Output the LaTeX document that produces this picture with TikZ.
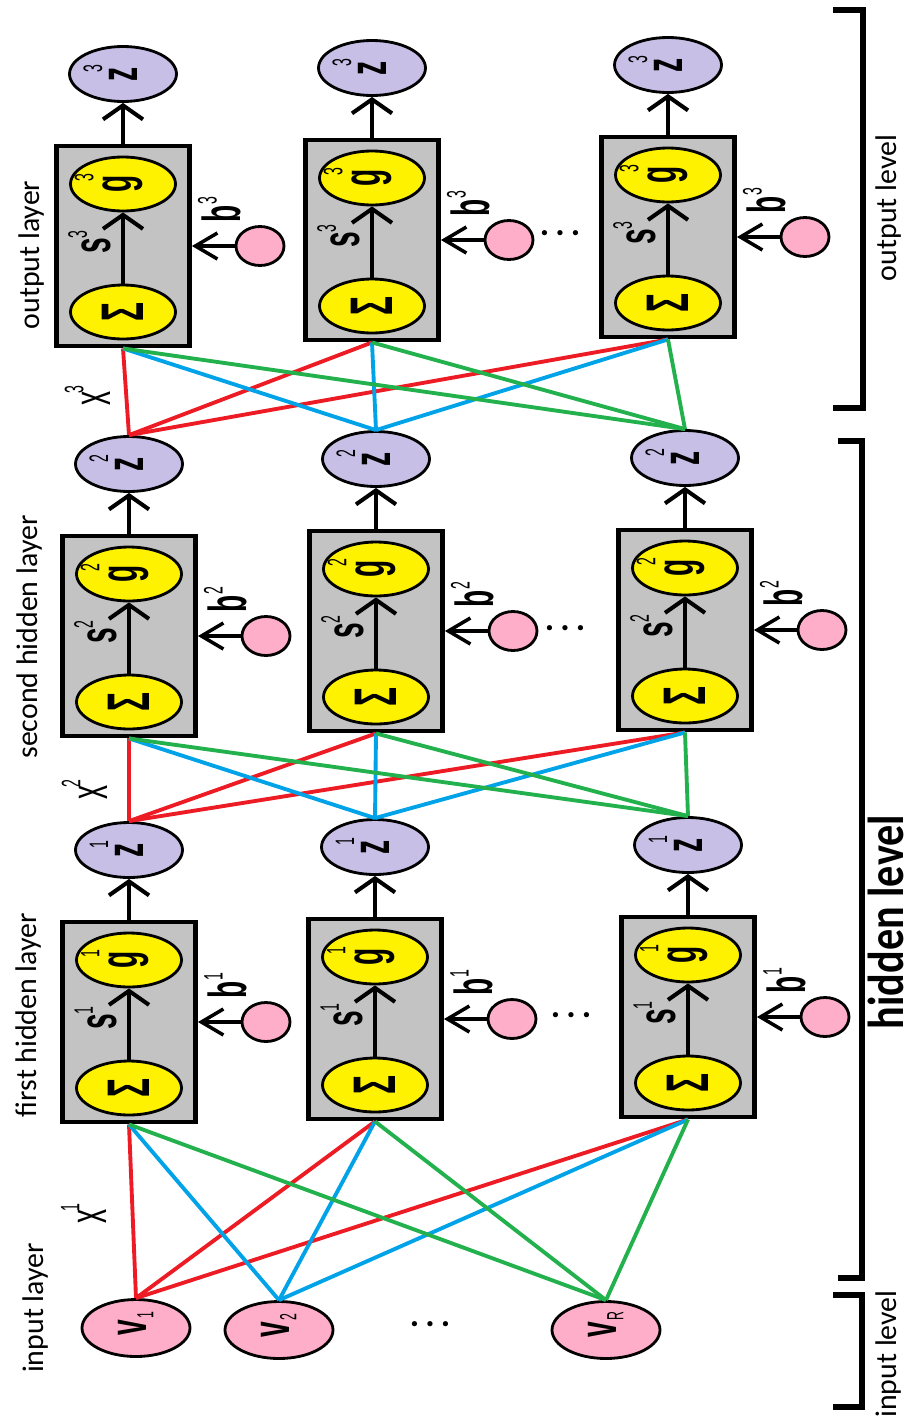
\documentclass[tikz,border=0pt]{standalone}
\usepackage{fontspec}
\setmainfont{Carlito}
\newfontfamily\symf{Liberation Sans}
\usepackage{graphicx}
\usetikzlibrary{shapes.geometric,arrows.meta}

\definecolor{paintred}{RGB}{237,28,36}
\definecolor{paintblue}{RGB}{0,162,232}
\definecolor{paintgreen}{RGB}{34,177,76}
\definecolor{paintyellow}{RGB}{255,242,0}
\definecolor{paintgray}{RGB}{195,195,195}
\definecolor{lavender}{RGB}{200,191,231}
\definecolor{rosepink}{RGB}{255,174,201}

% letter with a superscript, turned to read upwards: {kern}{raise}{letter}{index}
\newcommand{\sy}[4]{\rotatebox{90}{\scalebox{1}[1.9]{#3\rlap{\kern#1\smash{\raisebox{#2}{\mdseries\fontsize{8}{8}\selectfont #4}}}}}}
% input letter with a subscript
\newcommand{\sv}[1]{\rotatebox{90}{\scalebox{1}[1.9]{v\rlap{\kern1pt\raisebox{-2pt}{\mdseries\fontsize{7}{7}\selectfont #1}}}}}
\newcommand{\sumsign}{\rotatebox{90}{\scalebox{1}[1.9]{\fontsize{18}{18}\selectfont Σ}}}
\newcommand{\dotrow}{{\bfseries\fontsize{20}{20}\selectfont .\hspace{3.5pt}.\hspace{3.5pt}.}}

\tikzset{
  unit/.style={draw, line width=2.8pt, fill=paintgray, minimum width=2.66cm, minimum height=4cm, inner sep=0pt},
  oper/.style={ellipse, draw, line width=1.6pt, fill=paintyellow, minimum width=2.1cm, minimum height=1.08cm, inner sep=0pt, font=\symf\bfseries\fontsize{16}{16}\selectfont},
  outp/.style={oper, fill=lavender, minimum width=2.14cm, minimum height=1.1cm},
  inp/.style={oper, fill=rosepink, minimum width=2.16cm, minimum height=1.14cm},
  bias/.style={ellipse, draw, line width=1.6pt, fill=rosepink, minimum width=0.96cm, minimum height=0.78cm, inner sep=0pt},
  symlab/.style={inner sep=0pt, font=\symf\bfseries\fontsize{16}{16}\selectfont},
  xlab/.style={inner sep=0pt, font=\symf\fontsize{16}{16}\selectfont},
  lname/.style={rotate=90, inner sep=0pt, font=\fontsize{17}{17}\selectfont},
  upar/.style={line width=2.3pt, -{Straight Barb[length=0.28cm, width=0.8cm]}},
  sidear/.style={line width=2pt, -{Straight Barb[length=0.44cm, width=0.52cm]}},
  wire/.style={line width=2.2pt},
  bracket/.style={line width=3pt}
}

\begin{document}
\begin{tikzpicture}[x=0.02cm, y=-0.02cm]
\useasboundingbox (0,0) rectangle (915,1420);

% input layer
\node[inp] (v1) at (136,1328) {\sv{1}};
\node[inp] (v2) at (279,1330) {\sv{2}};
\node[inp] (vR) at (606,1330) {\sv{R}};
\node (vdots) at (430,1324) {\dotrow};

% the three layers of units
\foreach \l/\c/\x/\y in {1/1/129/1022, 1/2/375/1019, 1/3/688/1017,
                         2/1/129/636, 2/2/376/631, 2/3/685/630,
                         3/1/123/246, 3/2/372/240, 3/3/668/237} {
    \node[unit] (u\l\c) at (\x,\y) {};
    \node[oper] (sum\l\c) at (\x,\y+66) {\sumsign};
    \node[oper] (act\l\c) at (\x,\y-62) {\sy{-3.6pt}{11.5pt}{g}{\l}};
    \draw[upar] (sum\l\c) -- (act\l\c);
    \node[symlab] (s\l\c) at (\x-27,\y) {\sy{0pt}{7pt}{s}{\l}};
    \node[bias] (bias\l\c) at (\x+137,\y) {};
    \draw[sidear] (bias\l\c) -- (u\l\c);
    \node[symlab] (blab\l\c) at (\x+98,\y-32) {\sy{0.5pt}{7pt}{b}{\l}};
    \node[outp] (z\l\c) at (\x,\y-172) {\sy{-3.3pt}{10.5pt}{z}{\l}};
    \draw[upar] (u\l\c) -- (z\l\c);
}
\node (bdots1) at (571,1015) {\dotrow};
\node (bdots2) at (565,628) {\dotrow};
\node (bdots3) at (560,233) {\dotrow};

% weights
\foreach \src/\col in {v1/paintred, v2/paintblue, vR/paintgreen}
    \foreach \c in {1,2,3}
        \draw[wire, \col] (\src.north) -- (u1\c.south);
\foreach \k/\col in {1/paintred, 2/paintblue, 3/paintgreen}
    \foreach \c in {1,2,3} {
        \draw[wire, \col] (z1\k.north) -- (u2\c.south);
        \draw[wire, \col] (z2\k.north) -- (u3\c.south);
    }
\node[xlab] (x1) at (92,1216) {\sy{-1.7pt}{8pt}{x}{1}};
\node[xlab] (x2) at (93,792) {\sy{-1.7pt}{8pt}{x}{2}};
\node[xlab] (x3) at (96,398) {\sy{-1.7pt}{8pt}{x}{3}};

% layer names
\node[lname] (inlab) at (36,1308) {input layer};
\node[lname] (h1lab) at (29,1015) {first hidden layer};
\node[lname] (h2lab) at (30,637) {second hidden layer};
\node[lname] (outlab) at (32,255) {output layer};

% levels
\draw[bracket] (833,10) -| (863,408) -- (833,408);
\draw[bracket] (838,441) -| (862,1278) -- (838,1278);
\draw[bracket] (833,1295) -| (862,1407) -- (833,1407);
\node[lname] (outlev) at (889,208) {output level};
\node[lname, font=\bfseries\fontsize{24}{24}\selectfont] (hidlev) at (886,922) {\scalebox{1}[1.2]{hidden level}};
\node[lname] (inlev) at (889,1354) {input level};
\end{tikzpicture}
\end{document}
